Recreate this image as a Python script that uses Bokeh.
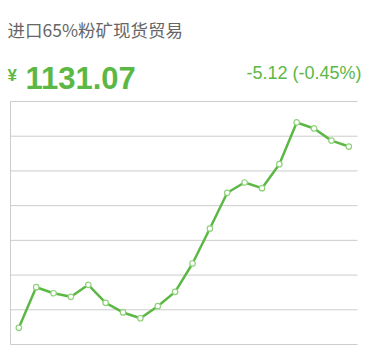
from bokeh.plotting import figure
from bokeh.models import Range1d, Label
from bokeh.embed import file_html
from bokeh.resources import INLINE

# Daily spot price of imported 65% fines (CNY/t)
days = list(range(20))
prices = [974.4, 1009.5, 1004.3, 1001.2, 1011.6, 996.0, 987.7, 982.7, 993.1, 1005.5,
          1030.0, 1060.2, 1091.1, 1100.0, 1095.1, 1115.8, 1151.9, 1146.7, 1136.19, 1131.07]
grid_levels = [960, 990, 1020, 1050, 1080, 1110, 1140, 1170]

title_text = "进口65%粉矿现货贸易"
currency = "¥"
last_price = "1131.07"
change_text = "-5.12 (-0.45%)"

GREEN = "#5cb845"
GRID = "#cccccc"

W, H = 372, 358
# chart box inside the page (pixels) and its data extent
box_left, box_right, box_top, box_bottom = 10, 357, 101, 344
x_lo, x_hi = -0.48, 19.5
y_lo, y_hi = grid_levels[0], grid_levels[-1]

kx = (box_right - box_left) / (x_hi - x_lo)
ky = (box_bottom - box_top) / (y_hi - y_lo)
x_range = Range1d(x_lo - box_left / kx, x_hi + (W - box_right) / kx)
y_range = Range1d(y_lo - (H - box_bottom) / ky, y_hi + box_top / ky)


def px_x(px):
    return x_range.start + px / kx


def px_y(py):
    return y_range.end - py / ky


p = figure(width=W, height=H, output_backend="svg", toolbar_location=None,
           x_range=x_range, y_range=y_range,
           min_border=0)
p.axis.visible = False
p.grid.visible = False
p.outline_line_color = None
p.background_fill_color = "white"
p.border_fill_color = "white"

# horizontal rules and the left edge of the chart box
p.segment(x0=[x_lo] * len(grid_levels), x1=[x_hi] * len(grid_levels),
          y0=grid_levels, y1=grid_levels, line_color=GRID, line_width=1)
p.segment(x0=[x_lo], x1=[x_lo], y0=[y_lo], y1=[y_hi], line_color=GRID, line_width=1)

p.line(days, prices, line_color=GREEN, line_width=2.5)
p.scatter(days, prices, size=5.5, fill_color="white", line_color="#8fd27a", line_width=1.2)

font = "Liberation Sans"
p.add_layout(Label(x=px_x(7), y=px_y(29), text=title_text,
                   text_font="Noto Sans CJK SC", text_font_size="17.5px", text_color="#666666",
                   text_baseline="alphabetic"))
p.add_layout(Label(x=px_x(7), y=px_y(75), text=currency,
                   text_font=font, text_font_size="17px", text_font_style="bold",
                   text_color=GREEN, text_baseline="alphabetic"))
p.add_layout(Label(x=px_x(25), y=px_y(77), text=last_price,
                   text_font=font, text_font_size="31px", text_font_style="bold",
                   text_color=GREEN, text_baseline="alphabetic"))
p.add_layout(Label(x=px_x(361), y=px_y(72), text=change_text,
                   text_font=font, text_font_size="18px", text_color=GREEN,
                   text_align="right", text_baseline="alphabetic"))

open("out.html", "w").write(file_html(p, INLINE))
